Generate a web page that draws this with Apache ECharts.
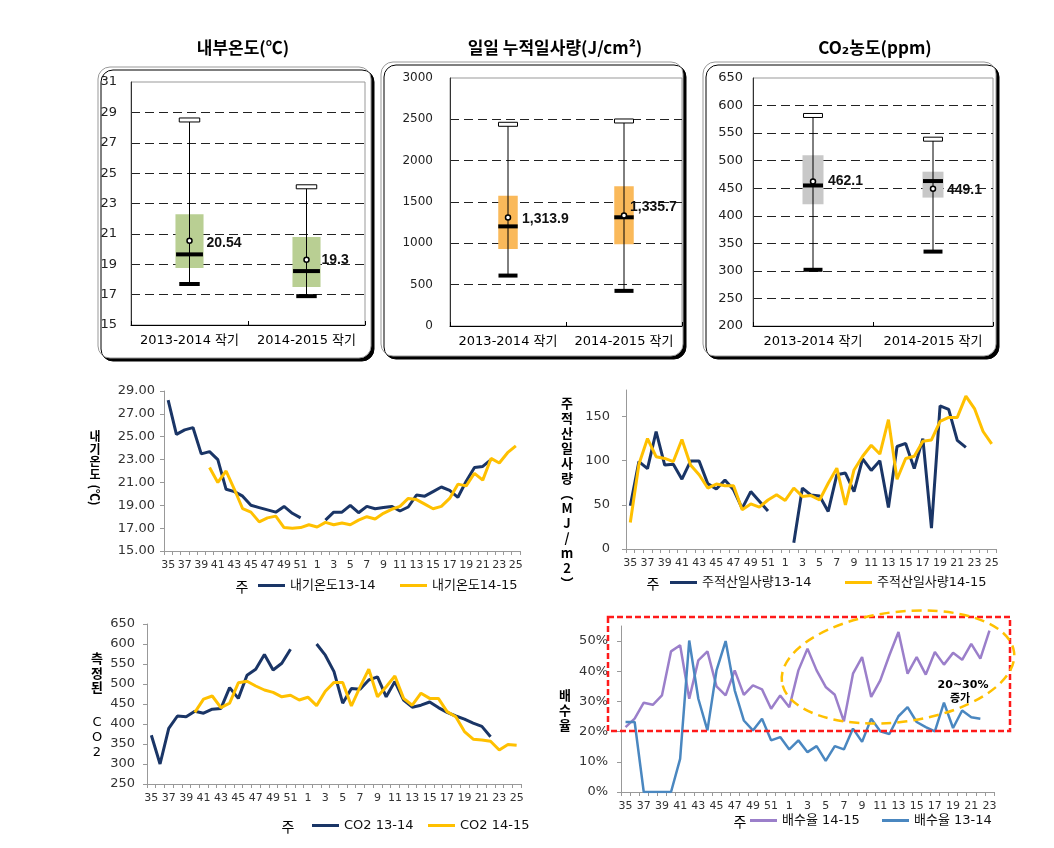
<!DOCTYPE html>
<html><head><meta charset="utf-8">
<script src="https://cdn.jsdelivr.net/npm/echarts@6/dist/echarts.min.js"></script>
<style>html,body{margin:0;padding:0;background:#fff}#c{width:1054px;height:848px}</style>
</head><body><div id="c"></div>
<script>
// ---------------- data ----------------
const boxCategories = ['2013-2014 작기', '2014-2015 작기'];

const tempMin = [17.7, 16.9];
const tempQ1 = [18.75, 17.5];
const tempMedian = [19.65, 18.55];
const tempQ3 = [22.3, 20.8];
const tempMax = [28.5, 24.1];
const tempMean = [20.54, 19.3];

const solarMin = [610, 425];
const solarQ1 = [930, 990];
const solarMedian = [1205, 1315];
const solarQ3 = [1575, 1690];
const solarMax = [2440, 2480];
const solarMean = [1313.9, 1335.7];

const co2Min = [302, 335];
const co2Q1 = [421, 433];
const co2Median = [455, 463];
const co2Q3 = [510, 480];
const co2Max = [582, 539];
const co2Mean = [462.1, 449.1];

const tempTicks = [15, 17, 19, 21, 23, 25, 27, 29];
const tempLabels = [15, 17, 19, 21, 23, 25, 27, 29, 31];
const solarTicks = [0, 500, 1000, 1500, 2000, 2500];
const solarLabels = [0, 500, 1000, 1500, 2000, 2500, 3000];
const co2Ticks = [200, 250, 300, 350, 400, 450, 500, 550, 600];
const co2Labels = [200, 250, 300, 350, 400, 450, 500, 550, 600, 650];
const lineTempLabels = [15, 17, 19, 21, 23, 25, 27, 29];

const weeks = ['35','36','37','38','39','40','41','42','43','44','45','46','47','48','49','50','51','52',
  '1','2','3','4','5','6','7','8','9','10','11','12','13','14','15','16','17','18','19','20','21','22','23','24','25'];
const weeksDrain = ['35','36','37','38','39','40','41','42','43','44','45','46','47','48','49','50','51','52',
  '1','2','3','4','5','6','7','8','9','10','11','12','13','14','15','16','17','18','19','20','21','22','23'];

const temp1314 = [28.2, 25.2, 25.6, 25.8, 23.5, 23.7, 23.0, 20.4, 20.2, 19.8, 19.0, 18.8, 18.6, 18.4, 18.9, 18.3, 17.9, null,
  null, 17.7, 18.4, 18.4, 19.0, 18.35, 18.9, 18.7, 18.8, 18.9, 18.5, 18.85, 19.9, 19.8, 20.2, 20.6, 20.3, 19.7, 21.1, 22.3, 22.4, 23.0, null, null, null];
const temp1415 = [null, null, null, null, null, 22.3, 21.0, 22.0, 20.4, 18.7, 18.4, 17.55, 17.9, 18.05, 17.05, 17.0, 17.05, 17.3,
  17.1, 17.5, 17.3, 17.45, 17.3, 17.7, 18.0, 17.8, 18.3, 18.65, 18.9, 19.6, 19.5, 19.1, 18.7, 18.9, 19.6, 20.85, 20.7, 21.8, 21.2, 23.1, 22.7, 23.6, 24.2];

const solar1314 = [49, 99, 91, 133, 95, 96, 79, 99.5, 99.5, 74, 68, 78, 67, 46, 65, 54, 43, null,
  null, 7, 69, 61, 60, 42.5, 84, 86, 65, 102, 89, 100, 47, 116, 119.5, 91, 125, 23.7, 162, 158, 123, 115, null, null, null];
const solar1415 = [30, 96, 125, 104.5, 102.5, 99, 124, 95, 84, 69, 73.5, 71.5, 71.5, 44.5, 51, 47.5, 55.5, 61.5,
  55, 69, 59.5, 60.5, 55.5, 74.5, 91.5, 50, 89.5, 105, 117.5, 107.5, 146.5, 79, 102.5, 105, 122, 123.5, 144.5, 149, 149, 173, 159, 133, 119];

const co21314 = [372, 300, 389, 420, 418, 432, 427, 437, 439, 491, 464, 522, 537, 574, 535, 552, 587, null,
  null, 600, 572, 531, 452, 489, 487, 510, 518, 468, 506, 460, 442, 447, 455, 441, 429, 420, 412, 402, 394, 368, null, null, null];
const co21415 = [null, null, null, null, null, 429, 462, 470, 441, 452, 503, 507, 495, 485, 479, 468, 472, 460,
  467, 446, 482, 504, 504, 445, 493, 537, 468, 493, 520, 464, 447, 477, 464, 464, 431, 418, 381, 362, 360, 357, 335, 349, 347];

const drain1415 = [21.5, 24.3, 29.6, 28.9, 32, 46.6, 48.6, 30.9, 43.6, 46.6, 35, 32, 40.3, 32.2, 35.3, 34, 27.6, 32,
  28.1, 40.3, 47.5, 40.3, 34.8, 32.2, 23.4, 39.2, 44.7, 31.5, 37, 45.3, 53, 39.2, 44.7, 38.9, 46.4, 42.2, 46.1, 43.8, 49.1, 44.2, 53.5];
const drain1314 = [23.2, 23.2, 0, 0, 0, 0, 11, 50.2, 30.9, 20.4, 40.3, 50, 33.7, 23.7, 20.4, 24.3, 17.1, 18.2,
  14.1, 17.1, 13.2, 15.2, 10.3, 15.2, 14.1, 21, 16.6, 24.3, 20.1, 19.2, 25.1, 28.1, 23.2, 21.5, 20.1, 29.6, 21.2, 27, 24.8, 24.3, null];

// ---------------- styles ----------------
const NAVY = '#1a3566', GOLD = '#ffc000', PURPLE = '#9b7fca', STEEL = '#4a87c0';
const FONT = '"DejaVu Sans", "Noto Sans CJK KR", sans-serif';
const KFONT = '"Noto Sans CJK KR", "DejaVu Sans", sans-serif';

function buildBox(mn, q1, md, q3, mx, mean) {
  return boxCategories.map((c, i) => [i, mn[i], q1[i], md[i], q3[i], mx[i], mean[i]]);
}

function boxRenderer(st) {
  return function (params, api) {
    const i = api.value(0);
    const P = v => api.coord([i, v]);
    const band = api.size([1, 0])[0];
    const cx = P(api.value(1))[0];
    const yMin = P(api.value(1))[1], yQ1 = P(api.value(2))[1], yMed = P(api.value(3))[1];
    const yQ3 = P(api.value(4))[1], yMax = P(api.value(5))[1], yMean = P(api.value(6))[1];
    const bw = band * st.boxW, cw = band * st.capW, mw = band * st.medW;
    const off = st.labelOff[params.dataIndex];
    return {
      type: 'group', children: [
        { type: 'rect', shape: { x: cx - bw / 2, y: yQ3, width: bw, height: yQ1 - yQ3 }, style: { fill: st.color } },
        { type: 'line', shape: { x1: cx, y1: yMax, x2: cx, y2: yMin }, style: { stroke: '#000', lineWidth: 1 } },
        { type: 'rect', shape: { x: cx - mw / 2, y: yMed - 2, width: mw, height: 4 }, style: { fill: '#000' } },
        { type: 'rect', shape: { x: cx - cw / 2, y: yMin - 2, width: cw, height: 4 }, style: { fill: '#000' } },
        { type: 'rect', shape: { x: cx - cw / 2, y: yMax - 2, width: cw, height: 4 }, style: { fill: '#fff', stroke: '#000', lineWidth: 1 } },
        { type: 'circle', shape: { cx: cx, cy: yMean, r: 2.5 }, style: { fill: '#fff', stroke: '#000', lineWidth: 1.5 } },
        { type: 'text', x: cx + off[0], y: yMean + off[1],
          style: { text: st.fmt(api.value(6)), font: 'bold 14px "Liberation Sans", sans-serif', fill: '#111',
                   align: 'left', textAlign: 'left', verticalAlign: 'middle', textVerticalAlign: 'middle' } }
      ]
    };
  };
}

function boxX(g) {
  return { type: 'category', gridIndex: g, data: boxCategories,
    axisLine: { show: true, lineStyle: { color: '#000' } },
    axisTick: { show: true, inside: true, length: 4, lineStyle: { color: '#000' } },
    axisLabel: { color: '#000', fontSize: 13, margin: 9, fontFamily: FONT, interval: 0 } };
}
function boxY(g, min, max, ticks, labels, fs, margin) {
  return { type: 'value', gridIndex: g, min: min, max: max,
    axisLine: { show: true, lineStyle: { color: '#333' } },
    axisTick: { show: false, customValues: ticks },
    axisLabel: { customValues: labels, fontSize: fs, color: '#222', margin: margin, fontFamily: FONT, formatter: v => String(v) },
    splitLine: { show: true, lineStyle: { type: [9, 5], color: '#222', width: 1 } } };
}
function weekX(g, cats) {
  return { type: 'category', gridIndex: g, data: cats, boundaryGap: true,
    axisLine: { show: true, lineStyle: { color: '#999' } },
    axisTick: { show: true, interval: 0, length: 4, lineStyle: { color: '#999' } },
    axisLabel: { interval: 1, fontSize: 11, color: '#333', margin: 9, fontFamily: FONT } };
}
function lineY(g, o) {
  return Object.assign({ type: 'value', gridIndex: g,
    axisLine: { show: true, lineStyle: { color: '#999' } },
    axisTick: { show: true, length: 4, lineStyle: { color: '#999' } },
    splitLine: { show: false } }, o);
}
function lineSeries(name, g, data, color, width) {
  return { type: 'line', name: name, xAxisIndex: g, yAxisIndex: g, data: data, symbol: 'none',
    connectNulls: false, lineStyle: { color: color, width: width }, itemStyle: { color: color }, z: 3 };
}
function legendAt(name, left, top) {
  return { data: [name], left: left, top: top, padding: 0, icon: 'rect', itemWidth: 27, itemHeight: 3,
    textStyle: { fontSize: 13, color: '#111', fontFamily: FONT }, selectedMode: false };
}
function txt(x, y, text, font, extra) {
  return Object.assign({ type: 'text', x: x, y: y, z: 50,
    style: { text: text, font: font, fill: '#000', align: 'center', textAlign: 'center',
      verticalAlign: 'middle', textVerticalAlign: 'middle' } }, extra || {});
}
function stack(x, y, text, font, lh) {
  return { type: 'text', x: x, y: y, z: 50, style: { text: text, font: font, fill: '#000', lineHeight: lh,
    align: 'center', textAlign: 'center', verticalAlign: 'top', textVerticalAlign: 'top' } };
}
function frame(x, y, w, h) {
  return { type: 'rect', z: -10, shape: { x: x, y: y, width: w, height: h, r: 12 },
    style: { fill: '#fff', stroke: '#999', lineWidth: 1, shadowColor: '#000', shadowOffsetX: 3, shadowOffsetY: 3, shadowBlur: 0 } };
}

const chart = echarts.init(document.getElementById('c'));
const gridBase = { show: true, borderColor: '#999', borderWidth: 1, backgroundColor: 'transparent', outerBoundsMode: 'none', containLabel: false };
const gridPlain = { outerBoundsMode: 'none', containLabel: false };

const option = {
  animation: false,
  backgroundColor: '#fff',
  textStyle: { fontFamily: FONT },
  grid: [
    Object.assign({ left: 131, top: 82, width: 234, height: 243 }, gridBase),
    Object.assign({ left: 450, top: 78, width: 232, height: 248 }, gridBase),
    Object.assign({ left: 753, top: 78, width: 240, height: 248 }, gridBase),
    Object.assign({ left: 164, top: 391, width: 356, height: 160 }, gridPlain),
    Object.assign({ left: 626, top: 390, width: 370, height: 159 }, gridPlain),
    Object.assign({ left: 147, top: 624, width: 374, height: 160 }, gridPlain),
    Object.assign({ left: 621, top: 626, width: 373, height: 166 }, gridPlain)
  ],
  xAxis: [boxX(0), boxX(1), boxX(2), weekX(3, weeks), weekX(4, weeks), weekX(5, weeks), weekX(6, weeksDrain)],
  yAxis: [
    boxY(0, 15, 31, tempTicks, tempLabels, 13, 14),
    boxY(1, 0, 3000, solarTicks, solarLabels, 12, 17),
    boxY(2, 200, 650, co2Ticks, co2Labels, 13, 10),
    lineY(3, { min: 15, max: 29, axisTick: { show: true, length: 4, customValues: lineTempLabels, lineStyle: { color: '#999' } },
      axisLabel: { customValues: lineTempLabels, formatter: v => Number(v).toFixed(2), fontSize: 13, color: '#333', margin: 9, fontFamily: FONT } }),
    lineY(4, { min: 0, max: 180, interval: 50, axisLabel: { showMaxLabel: false, fontSize: 13, color: '#333', margin: 16, fontFamily: FONT } }),
    lineY(5, { min: 250, max: 650, interval: 50, axisLabel: { fontSize: 13, color: '#333', margin: 12, fontFamily: FONT } }),
    lineY(6, { min: 0, max: 55, interval: 10, axisLabel: { showMaxLabel: false, formatter: v => v + '%', fontSize: 13, color: '#333', margin: 13, fontFamily: FONT } })
  ],
  legend: [
    legendAt('내기온도13-14', 258, 579), legendAt('내기온도14-15', 400, 579),
    legendAt('주적산일사량13-14', 670, 576), legendAt('주적산일사량14-15', 845, 576),
    legendAt('CO2 13-14', 312, 819), legendAt('CO2 14-15', 428, 819),
    legendAt('배수율 14-15', 750, 814), legendAt('배수율 13-14', 882, 814)
  ],
  series: [
    { type: 'custom', xAxisIndex: 0, yAxisIndex: 0, encode: { x: 0, y: [1, 2, 3, 4, 5, 6] },
      data: buildBox(tempMin, tempQ1, tempMedian, tempQ3, tempMax, tempMean),
      renderItem: boxRenderer({ color: '#b9cf93', boxW: 0.24, medW: 0.23, capW: 0.175, labelOff: [[17, 2], [15, 0]], fmt: v => String(v) }) },
    { type: 'custom', xAxisIndex: 1, yAxisIndex: 1, encode: { x: 0, y: [1, 2, 3, 4, 5, 6] },
      data: buildBox(solarMin, solarQ1, solarMedian, solarQ3, solarMax, solarMean),
      renderItem: boxRenderer({ color: '#fab95a', boxW: 0.168, medW: 0.168, capW: 0.164, labelOff: [[14, 2], [6, -8]],
        fmt: v => Number(v).toLocaleString('en-US', { minimumFractionDigits: 1, maximumFractionDigits: 1 }) }) },
    { type: 'custom', xAxisIndex: 2, yAxisIndex: 2, encode: { x: 0, y: [1, 2, 3, 4, 5, 6] },
      data: buildBox(co2Min, co2Q1, co2Median, co2Q3, co2Max, co2Mean),
      renderItem: boxRenderer({ color: '#c8c8c8', boxW: 0.175, medW: 0.167, capW: 0.158, labelOff: [[15, 0], [14, 1]], fmt: v => Number(v).toFixed(1) }) },
    lineSeries('내기온도13-14', 3, temp1314, NAVY, 3),
    lineSeries('내기온도14-15', 3, temp1415, GOLD, 3),
    lineSeries('주적산일사량13-14', 4, solar1314, NAVY, 3),
    lineSeries('주적산일사량14-15', 4, solar1415, GOLD, 3),
    lineSeries('CO2 13-14', 5, co21314, NAVY, 3),
    lineSeries('CO2 14-15', 5, co21415, GOLD, 3),
    lineSeries('배수율 14-15', 6, drain1415, PURPLE, 2.5),
    lineSeries('배수율 13-14', 6, drain1314, STEEL, 2.5)
  ],
  graphic: [
    frame(98, 67, 273, 291),
    frame(381, 62, 302, 294),
    frame(703, 62, 293, 294),
    txt(243, 48, '내부온도(℃)', 'bold 17px ' + KFONT),
    txt(555, 48, '일일 누적일사량(J/cm²)', 'bold 17px ' + KFONT),
    txt(875, 48, 'CO₂농도(ppm)', 'bold 17px ' + KFONT),
    stack(95, 430.4, '내\n기\n온\n도', 'bold 12px ' + KFONT, 12.6),
    txt(95, 495, '(℃)', 'bold 12px ' + KFONT, { rotation: -Math.PI / 2 }),
    stack(567, 395.5, '주\n적\n산\n일\n사\n량\n︵\nM\nJ\n/\nm\n2\n︶', 'bold 13px ' + KFONT, 15),
    stack(97, 651, '측\n정\n된', 'bold 13px ' + KFONT, 14.5),
    stack(97, 715.5, 'C\nO\n2', '13px ' + FONT, 15),
    stack(565, 687.5, '배\n수\n율', 'bold 13px ' + KFONT, 15),
    txt(242, 587, '주', '14px ' + KFONT),
    txt(653, 584, '주', '14px ' + KFONT),
    txt(288, 827, '주', '14px ' + KFONT),
    txt(740, 822, '주', '14px ' + KFONT),
    { type: 'rect', z: 100, shape: { x: 608, y: 617, width: 402, height: 114 },
      style: { fill: 'none', stroke: '#ff1a1a', lineWidth: 2.5, lineDash: [6, 3] } },
    { type: 'ellipse', z: 100, x: 898, y: 667, rotation: 0.127, shape: { cx: 0, cy: 0, rx: 117, ry: 55 },
      style: { fill: 'none', stroke: '#ffc000', lineWidth: 2.5, lineDash: [10, 6] } },
    txt(963, 685, '20~30%', 'bold 11px ' + FONT),
    txt(960, 698, '증가', 'bold 11px ' + KFONT)
  ]
};
chart.setOption(option);
</script>
</body></html>
